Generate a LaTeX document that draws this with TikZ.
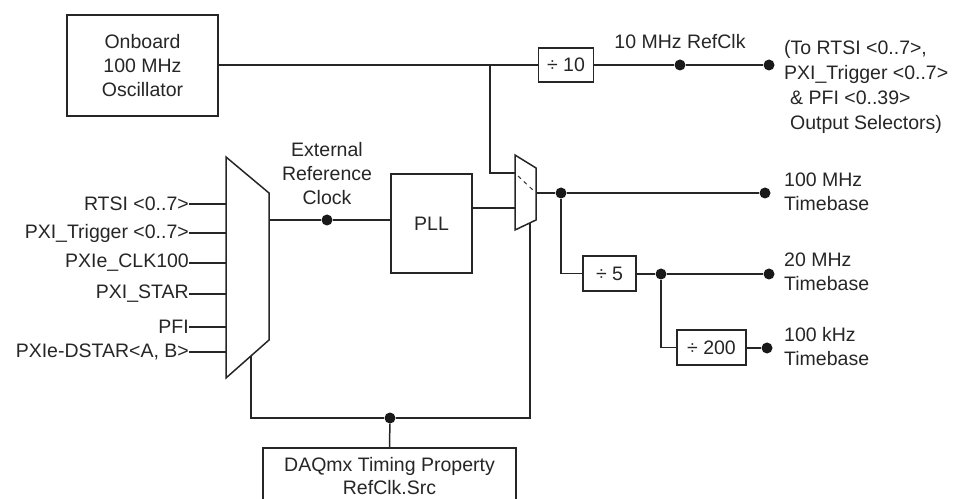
\documentclass[tikz,border=0pt]{standalone}
\usepackage{fontspec}
\setmainfont{Liberation Sans}
\begin{document}
\begin{tikzpicture}[x=1bp,y=-1bp,
  every node/.style={font=\fontsize{19.5bp}{24bp}\selectfont, text=black!85},
  wire/.style={line width=1.5bp, draw=black!85},
  box/.style={draw=black!85, line width=1.5bp, inner sep=0pt, fill=white},
  lbl/.style={inner sep=0pt},
  dot/.style={circle, fill=black!90, inner sep=0pt, minimum size=11bp}]
\useasboundingbox (0,0) rectangle (957,499);
\clip (0,0) rectangle (957,499);

% boxes
\node[box, minimum width=151bp, minimum height=101bp, align=center] (osc) at (142.5,65.5) {Onboard\\100 MHz\\Oscillator};
\node[box, minimum width=55bp, minimum height=34bp] (div10) at (566,65) {÷ 10};
\node[box, minimum width=81bp, minimum height=99bp] (pll) at (431.5,223.5) {PLL};
\node[box, minimum width=53bp, minimum height=35bp] (div5) at (609.5,273.5) {÷ 5};
\node[box, minimum width=69bp, minimum height=35bp] (div200) at (711.5,347.5) {÷ 200};
\node[box, minimum width=253bp, minimum height=80bp, anchor=north] (daq) at (389.5,447) {};
\node[lbl, align=center, font=\fontsize{19.5bp}{23bp}\selectfont] (daqtxt) at (389.5,476) {DAQmx Timing Property\\RefClk.Src};

% big mux
\coordinate (bm1) at (226,157);
\coordinate (bm2) at (269,193);
\coordinate (bm3) at (269,340);
\coordinate (bm4) at (226,378);
\draw[wire, line join=miter] (bm1) -- (bm2) -- (bm3) -- (bm4) -- cycle;
\coordinate (bmout) at (269,220);
\coordinate (bmbot) at (251,356);

% small mux
\coordinate (sm1) at (515,155);
\coordinate (sm2) at (536,168);
\coordinate (sm3) at (536,220);
\coordinate (sm4) at (515,230);
\draw[wire, line join=miter] (sm1) -- (sm2) -- (sm3) -- (sm4) -- cycle;
\coordinate (smin1) at (515,173);
\coordinate (smin2) at (515,208);
\coordinate (smout) at (536,193);
\coordinate (smbot) at (530,223);
\draw[line width=1bp, draw=black!80, dash pattern=on 4bp off 4bp] (518,176) -- (535,192);

% inputs of big mux
\foreach \name/\txt/\yy in {i1/{RTSI <0..7>}/204, i2/{PXI\_Trigger <0..7>}/233, i3/{PXIe\_CLK100}/263, i4/{PXI\_STAR}/294, i5/{PFI}/327, i6/{PXIe-DSTAR<A, B>}/352}{
  \node[lbl, anchor=east] (\name) at (189,\yy) {\txt};
  \draw[wire] (\name.east) -- (226,\yy);
}

% top line
\coordinate (br1) at (490,65);
\node[dot] (d10a) at (680,65) {};
\node[dot] (d10b) at (769,65) {};
\draw[wire] (osc.east |- br1) -- (div10.west);
\draw[wire] (br1) -- (br1 |- smin1) -- (smin1);
\draw[wire] (div10.east) -- (d10a) -- (d10b);
\node[lbl] (l10) at (680,42) {10 MHz RefClk};
\node[lbl, anchor=north west, align=left, font=\fontsize{19.5bp}{25bp}\selectfont] (lout) at (784,40) {(To RTSI <0..7>,\\PXI\_Trigger <0..7>\\\hspace{6bp}\& PFI <0..39>\\\hspace{6bp}Output Selectors)};

% external reference clock
\node[dot] (dext) at (327,220) {};
\draw[wire] (bmout) -- (dext) -- (dext -| pll.west);
\node[lbl, align=center] (lext) at (327,174) {External\\Reference\\Clock};
\draw[wire] (pll.east |- smin2) -- (smin2);

% outputs
\node[dot] (d100) at (561,193) {};
\node[dot] (d100e) at (765,193) {};
\draw[wire] (smout) -- (d100) -- (d100e);
\node[dot] (d20) at (661,274) {};
\node[dot] (d20e) at (769,274) {};
\node[dot] (dkhz) at (767,348) {};
\draw[wire] (d100) -- (d100 |- div5.west) -- (div5.west);
\draw[wire] (div5.east |- d20) -- (d20) -- (d20e);
\draw[wire] (d20) -- (d20 |- div200.west) -- (div200.west);
\draw[wire] (div200.east |- dkhz) -- (dkhz);
\node[lbl, anchor=west, align=left] (t100) at (784,192) {100 MHz\\Timebase};
\node[lbl, anchor=west, align=left] (t20) at (784,272) {20 MHz\\Timebase};
\node[lbl, anchor=west, align=left] (tkhz) at (784,347) {100 kHz\\Timebase};

% bottom select
\node[dot] (dsel) at (390,418) {};
\draw[wire] (bmbot) -- (bmbot |- dsel) -- (dsel) -- (dsel -| smbot) -- (smbot);
\draw[wire] (dsel) -- (daq.north);
\end{tikzpicture}
\end{document}
